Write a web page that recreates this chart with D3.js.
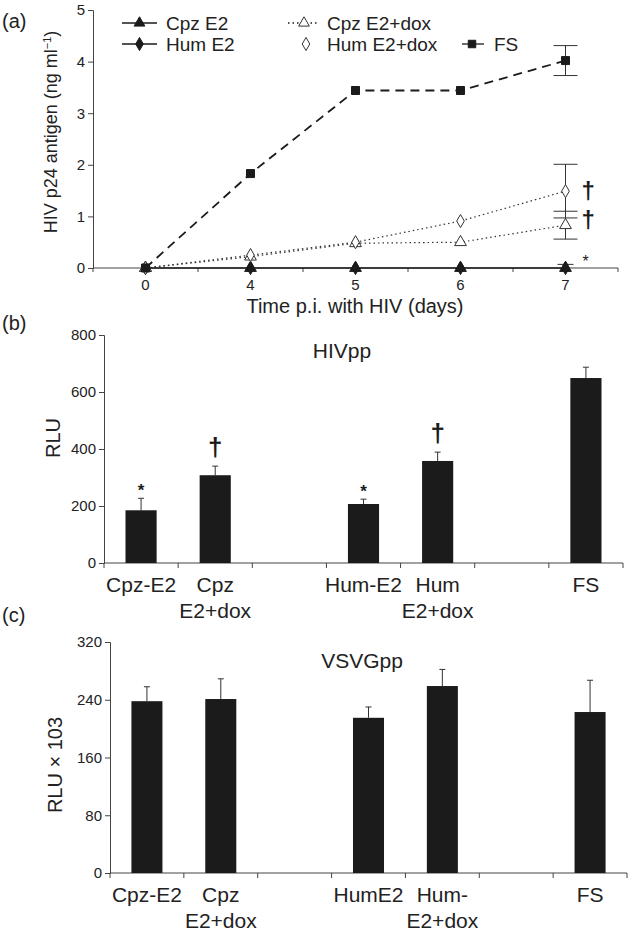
<!DOCTYPE html>
<html>
<head>
<meta charset="utf-8">
<script src="https://cdn.jsdelivr.net/npm/d3@7"></script>
<style>
  body { margin: 0; background: #fff; }
  svg { font-family: "Liberation Sans", Arial, sans-serif; }
</style>
</head>
<body>
<script>
// panel (a) data
const days = ["0", "4", "5", "6", "7"]
const cpzE2 = [0, 0, 0, 0, 0]
const humE2 = [0, 0, 0, 0, 0]
const cpzDox = [0, 0.22, 0.48, 0.50, 0.83]
const humDox = [0, 0.25, 0.50, 0.91, 1.49]
const fs = [0, 1.83, 3.44, 3.44, 4.02]
const cpzE2Err = [0, 0, 0, 0, 0.07]
const cpzDoxErr = [0, 0, 0, 0, 0.27]
const humDoxErr = [0, 0, 0, 0, 0.52]
const fsErr = [0, 0, 0, 0, 0.29]
const aTicks = [0, 1, 2, 3, 4, 5]

// panel (b) data
const hivLabels = [["Cpz-E2"], ["Cpz", "E2+dox"], [], ["Hum-E2"], ["Hum", "E2+dox"], [], ["FS"]]
const hivValues = [185, 308, null, 207, 358, null, 649]
const hivErr = [42, 32, null, 17, 31, null, 38]
const hivMarks = ["*", "†", null, "*", "†", null, null]
const bTicks = [0, 200, 400, 600, 800]

// panel (c) data
const vsvLabels = [["Cpz-E2"], ["Cpz", "E2+dox"], [], ["HumE2"], ["Hum-", "E2+dox"], [], ["FS"]]
const vsvValues = [238, 241, null, 215, 259, null, 223]
const vsvErr = [20, 28, null, 15, 23, null, 44]
const cTicks = [0, 80, 160, 240, 320]

const ink = "#1b1b1b"
const txt = "#222"
const axisCol = "#444"

const svg = d3.select("body").append("svg")
  .attr("width", 630)
  .attr("height", 932)

// ---------- panel (a) ----------
const ax = d3.scaleBand().domain(days).range([93, 618])
const ay = d3.scaleLinear().domain([0, 5]).range([268, 10])
const cx = d => ax(d) + ax.bandwidth() / 2

const gA = svg.append("g")

// y axis
gA.append("g")
  .attr("transform", "translate(93,0)")
  .call(d3.axisLeft(ay).tickValues(aTicks).tickFormat(d3.format("d")).tickSize(5).tickPadding(3))
  .call(g => g.selectAll("text").attr("font-size", 15).attr("fill", txt))
  .call(g => g.selectAll("path, line").attr("stroke", axisCol))

// x axis line with ticks between categories
gA.append("line").attr("x1", 93).attr("x2", 618).attr("y1", ay(0)).attr("y2", ay(0))
  .attr("stroke", axisCol)
gA.selectAll(".bt").data(days.concat(["end"])).enter().append("line")
  .attr("x1", (d, i) => 93 + i * ax.bandwidth())
  .attr("x2", (d, i) => 93 + i * ax.bandwidth())
  .attr("y1", ay(0)).attr("y2", ay(0) + 4)
  .attr("stroke", axisCol)
gA.selectAll(".xl").data(days).enter().append("text")
  .attr("x", d => cx(d)).attr("y", 290)
  .attr("text-anchor", "middle").attr("font-size", 15).attr("fill", txt)
  .text(d => d)

const line = d3.line().x((d, i) => cx(days[i])).y(d => ay(d))

const series = [
  { v: cpzE2, e: cpzE2Err, dash: null, sym: d3.symbolTriangle, fill: ink },
  { v: humE2, e: null, dash: null, sym: d3.symbolDiamond, fill: ink },
  { v: cpzDox, e: cpzDoxErr, dash: "1.5,3", sym: d3.symbolTriangle, fill: "#fff" },
  { v: humDox, e: humDoxErr, dash: "1.5,3", sym: d3.symbolDiamond, fill: "#fff" },
  { v: fs, e: fsErr, dash: "9,6", sym: d3.symbolSquare, fill: ink }
]

series.forEach(s => {
  gA.append("path").datum(s.v)
    .attr("d", line)
    .attr("fill", "none")
    .attr("stroke", s.dash === "1.5,3" ? "#333" : ink)
    .attr("stroke-width", s.dash === "9,6" ? 1.8 : 1.2)
    .attr("stroke-dasharray", s.dash)
})

// error bars
series.forEach(s => {
  if (!s.e) return
  s.v.forEach((v, i) => {
    if (!s.e[i]) return
    const x = cx(days[i])
    const hw = s.v === cpzE2 ? 8 : 12
    gA.append("line").attr("x1", x).attr("x2", x)
      .attr("y1", ay(Math.max(0, v - s.e[i]))).attr("y2", ay(v + s.e[i]))
      .attr("stroke", "#333")
    ;[v - s.e[i], v + s.e[i]].forEach(t => {
      if (t < 0) return
      gA.append("line").attr("x1", x - hw).attr("x2", x + hw)
        .attr("y1", ay(t)).attr("y2", ay(t)).attr("stroke", "#333")
    })
  })
})

series.forEach(s => {
  gA.selectAll(null).data(s.v).enter().append("path")
    .attr("d", d3.symbol().type(s.sym).size(s.sym === d3.symbolSquare ? 64 : (s.sym === d3.symbolTriangle ? 60 : 50)))
    .attr("transform", (d, i) => `translate(${cx(days[i])},${ay(d)})`)
    .attr("fill", s.fill)
    .attr("stroke", s.fill === "#fff" ? "#333" : ink)
    .attr("stroke-width", 1)
})

// significance marks at day 7
gA.append("text").attr("x", cx("7") + 16).attr("y", ay(humDox[4]) + 8)
  .attr("font-size", 24).attr("font-weight", "bold").attr("fill", ink).text("†")
gA.append("text").attr("x", cx("7") + 16).attr("y", ay(cpzDox[4] + cpzDoxErr[4]) + 17)
  .attr("font-size", 24).attr("font-weight", "bold").attr("fill", ink).text("†")
gA.append("text").attr("x", cx("7") + 17).attr("y", ay(0) - 1)
  .attr("font-size", 16).attr("fill", ink).text("*")

// legend
const legend = gA.append("g")
const legItems = [
  { x: 122, y: 23, w: 35, sym: d3.symbolTriangle, fill: ink, dash: null, label: "Cpz E2", tx: 166 },
  { x: 122, y: 44, w: 35, sym: d3.symbolDiamond, fill: ink, dash: null, label: "Hum E2", tx: 166 },
  { x: 288, y: 23, w: 29, sym: d3.symbolTriangle, fill: "#fff", dash: "1.5,3", label: "Cpz E2+dox", tx: 327, mx: 304 },
  { x: 300, y: 44, w: 0, sym: d3.symbolDiamond, fill: "#fff", dash: null, label: "Hum E2+dox", tx: 327, mx: 306 },
  { x: 462, y: 44, w: 22, sym: d3.symbolSquare, fill: ink, dash: null, label: "FS", tx: 494, mx: 472 }
]
legItems.forEach(l => {
  if (l.w) legend.append("line").attr("x1", l.x).attr("x2", l.x + l.w)
    .attr("y1", l.y).attr("y2", l.y).attr("stroke", ink).attr("stroke-width", 1.3)
    .attr("stroke-dasharray", l.dash)
  const mx = l.mx || l.x + l.w / 2
  legend.append("path")
    .attr("d", d3.symbol().type(l.sym).size(l.sym === d3.symbolSquare ? 56 : 50))
    .attr("transform", `translate(${mx},${l.y})`)
    .attr("fill", l.fill).attr("stroke", l.fill === "#fff" ? "#333" : ink)
  legend.append("text").attr("x", l.tx).attr("y", l.y + 7)
    .attr("font-size", 19).attr("fill", txt).text(l.label)
})

// labels
svg.append("text").attr("x", 2).attr("y", 28).attr("font-size", 20).attr("fill", txt).text("(a)")
const yl = svg.append("text").attr("transform", "translate(57,132) rotate(-90)")
  .attr("text-anchor", "middle").attr("font-size", 18).attr("fill", txt)
yl.append("tspan").text("HIV p24 antigen (ng ml")
yl.append("tspan").attr("baseline-shift", "super").attr("font-size", 11).text("−1")
yl.append("tspan").text(")")
svg.append("text").attr("x", 355).attr("y", 313).attr("text-anchor", "middle")
  .attr("font-size", 20).attr("fill", txt).text("Time p.i. with HIV (days)")

// ---------- bar panels ----------
function barPanel(opts) {
  const keys = opts.labels.map((d, i) => "k" + i)
  const x = d3.scaleBand().domain(keys).range([opts.left, opts.right])
  const y = d3.scaleLinear().domain([0, opts.max]).range([opts.bottom, opts.top])
  const g = svg.append("g")
  const bw = x.bandwidth() * 0.42

  g.append("g")
    .attr("transform", `translate(${opts.left},0)`)
    .call(d3.axisLeft(y).tickValues(opts.ticks).tickSize(5).tickPadding(3))
    .call(a => a.selectAll("text").attr("font-size", 15).attr("fill", txt))
    .call(a => a.selectAll("path, line").attr("stroke", axisCol))

  g.append("line").attr("x1", opts.left).attr("x2", opts.right)
    .attr("y1", y(0)).attr("y2", y(0)).attr("stroke", axisCol)
  g.selectAll(".bt").data(keys.concat(["end"])).enter().append("line")
    .attr("x1", (d, i) => opts.left + i * x.bandwidth())
    .attr("x2", (d, i) => opts.left + i * x.bandwidth())
    .attr("y1", y(0)).attr("y2", y(0) + 5).attr("stroke", axisCol)

  opts.values.forEach((v, i) => {
    if (v == null) return
    const c = x(keys[i]) + x.bandwidth() / 2
    g.append("rect").attr("x", c - bw / 2).attr("width", bw)
      .attr("y", y(v)).attr("height", y(0) - y(v)).attr("fill", ink)
    g.append("line").attr("x1", c).attr("x2", c)
      .attr("y1", y(v)).attr("y2", y(v + opts.err[i])).attr("stroke", "#333")
    g.append("line").attr("x1", c - 3).attr("x2", c + 3)
      .attr("y1", y(v + opts.err[i])).attr("y2", y(v + opts.err[i])).attr("stroke", "#333")
    if (opts.marks && opts.marks[i]) {
      const m = opts.marks[i]
      g.append("text").attr("x", c).attr("text-anchor", "middle")
        .attr("y", m === "*" ? y(v + opts.err[i]) - 2 : y(v + opts.err[i]) - 10)
        .attr("font-size", m === "*" ? 17 : 26).attr("font-weight", "bold")
        .attr("fill", ink).text(m)
    }
  })

  opts.labels.forEach((lines, i) => {
    const c = x(keys[i]) + x.bandwidth() / 2
    lines.forEach((t, j) => {
      g.append("text").attr("x", c).attr("y", y(0) + 29 + j * 26)
        .attr("text-anchor", "middle").attr("font-size", 21).attr("fill", txt).text(t)
    })
  })

  g.append("text").attr("x", opts.titleX).attr("y", opts.titleY).attr("text-anchor", "middle")
    .attr("font-size", 21).attr("fill", txt).text(opts.title)
  g.append("text").attr("transform", `translate(${opts.ylX},${opts.ylY}) rotate(-90)`)
    .attr("text-anchor", "middle").attr("font-size", 20).attr("fill", txt).text(opts.ylabel)
  g.append("text").attr("x", 2).attr("y", opts.tagY).attr("font-size", 20).attr("fill", txt).text(opts.tag)
}

barPanel({
  labels: hivLabels, values: hivValues, err: hivErr, marks: hivMarks, ticks: bTicks,
  max: 800, left: 104, right: 623, top: 335, bottom: 563,
  title: "HIVpp", titleX: 342, titleY: 358, ylabel: "RLU", ylX: 60, ylY: 438,
  tag: "(b)", tagY: 330
})

barPanel({
  labels: vsvLabels, values: vsvValues, err: vsvErr, marks: null, ticks: cTicks,
  max: 320, left: 110, right: 627, top: 642, bottom: 873,
  title: "VSVGpp", titleX: 362, titleY: 668, ylabel: "RLU × 103", ylX: 62, ylY: 765,
  tag: "(c)", tagY: 622
})
</script>
</body>
</html>
